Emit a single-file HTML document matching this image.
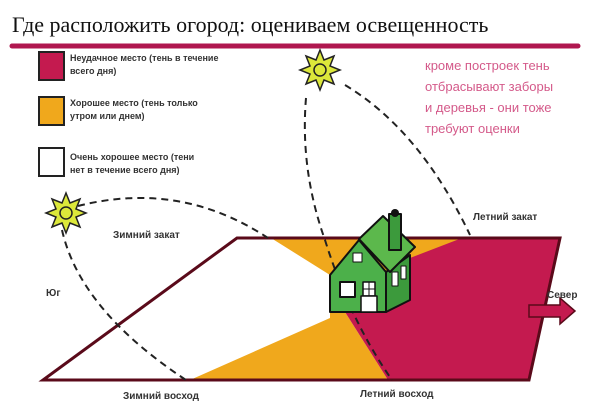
<!DOCTYPE html>
<html><head><meta charset="utf-8"><style>
body{margin:0;background:#fff;width:600px;height:405px;overflow:hidden}
svg text{font-family:"Liberation Sans",sans-serif}
</style></head><body>
<svg width="600" height="405" viewBox="0 0 600 405" xmlns="http://www.w3.org/2000/svg">
<text x="12" y="32" style="font-family:'Liberation Serif',serif" font-size="22" fill="#111">Где расположить огород: оцениваем освещенность</text>
<line x1="12" y1="46" x2="578" y2="46" stroke="#b0174f" stroke-width="5" stroke-linecap="round"/>
<rect x="39" y="52" width="25" height="28" fill="#c41a4f" stroke="#222" stroke-width="2"/>
<rect x="39" y="97" width="25" height="28" fill="#f0a81c" stroke="#222" stroke-width="2"/>
<rect x="39" y="148" width="25" height="28" fill="#fff" stroke="#222" stroke-width="2"/>
<g font-size="9" font-weight="bold" fill="#333">
<text x="70" y="61">Неудачное место (тень в течение</text><text x="70" y="74">всего дня)</text>
<text x="70" y="106">Хорошее место (тень только</text><text x="70" y="119">утром или днем)</text>
<text x="70" y="160">Очень хорошее место (тени</text><text x="70" y="173">нет в течение всего дня)</text>
</g>
<g font-size="13" fill="#d45a8a">
<text x="425" y="70">кроме построек  тень</text><text x="425" y="91">отбрасывают заборы</text><text x="425" y="112">и деревья - они тоже</text><text x="425" y="133">требуют оценки</text>
</g>
<polygon points="237,238 560,238 529,380 43,380" fill="#fff"/>
<polygon points="271,238 462,238 410,262 386,312 345,312 388,380 190,380 330,318 330,275" fill="#f0a81c"/>
<polygon points="462,238 560,238 529,380 388,380 345,312 386,312 410,295 410,258" fill="#c41a4f"/>
<polygon points="237,238 560,238 529,380 43,380" fill="none" stroke="#5a0a1a" stroke-width="3"/>
<polygon points="529,305 560,305 560,298 575,311 560,324 560,317 529,317" fill="#c41a4f" stroke="#5a0a1a" stroke-width="1.5"/>
<g fill="none" stroke="#222" stroke-width="2" stroke-dasharray="7,5">
<path d="M78,206 Q180,180 268,238"/>
<path d="M62,230 Q80,310 186,380"/>
<path d="M306,98 Q300,170 325,240 Q350,320 392,380"/>
<path d="M345,85 Q420,130 470,235"/>
</g>
<g>
<polygon points="320,50 324,60 334,56 330,66 340,70 330,74 334,84 324,80 320,90 316,80 306,84 310,74 300,70 310,66 306,56 316,60" fill="#dce83a" stroke="#222" stroke-width="1.5"/>
<circle cx="320" cy="70" r="6" fill="#dce83a" stroke="#222" stroke-width="1.5"/>
<polygon points="66,193 70,203 80,199 76,209 86,213 76,217 80,227 70,223 66,233 62,223 52,227 56,217 46,213 56,209 52,199 62,203" fill="#dce83a" stroke="#222" stroke-width="1.5"/>
<circle cx="66" cy="213" r="6" fill="#dce83a" stroke="#222" stroke-width="1.5"/>
</g>
<g stroke="#111" stroke-width="2" stroke-linejoin="round">
<polygon points="386,272 410,255 410,300 386,312" fill="#3c9a3c"/>
<polygon points="330,275 359,240 386,272 386,312 330,312" fill="#4cb04a"/>
<polygon points="359,239 383,216 415,247 390,272" fill="#5cb84c"/>
<rect x="389" y="214" width="12" height="36" fill="#3c9a3c"/>
<rect x="340" y="282" width="15" height="15" fill="#fff"/>
<rect x="363" y="282" width="12" height="14" fill="#fff" stroke-width="1.5"/>
<rect x="361" y="296" width="16" height="16" fill="#fff" stroke-width="1.5"/>
<rect x="353" y="253" width="9" height="9" fill="#fff" stroke-width="1"/>
<rect x="392" y="272" width="6" height="14" fill="#fff" stroke-width="1"/>
<rect x="401" y="266" width="5" height="13" fill="#fff" stroke-width="1"/>
</g>
<line x1="369" y1="282" x2="369" y2="296" stroke="#111" stroke-width="1"/>
<line x1="363" y1="289" x2="375" y2="289" stroke="#111" stroke-width="1"/>
<circle cx="395" cy="213" r="4" fill="#111"/>
<g font-size="10" font-weight="bold" fill="#333">
<text x="113" y="238">Зимний закат</text>
<text x="473" y="220">Летний закат</text>
<text x="46" y="296">Юг</text>
<text x="547" y="298">Север</text>
<text x="123" y="399">Зимний восход</text>
<text x="360" y="397">Летний восход</text>
</g>
</svg>
</body></html>
